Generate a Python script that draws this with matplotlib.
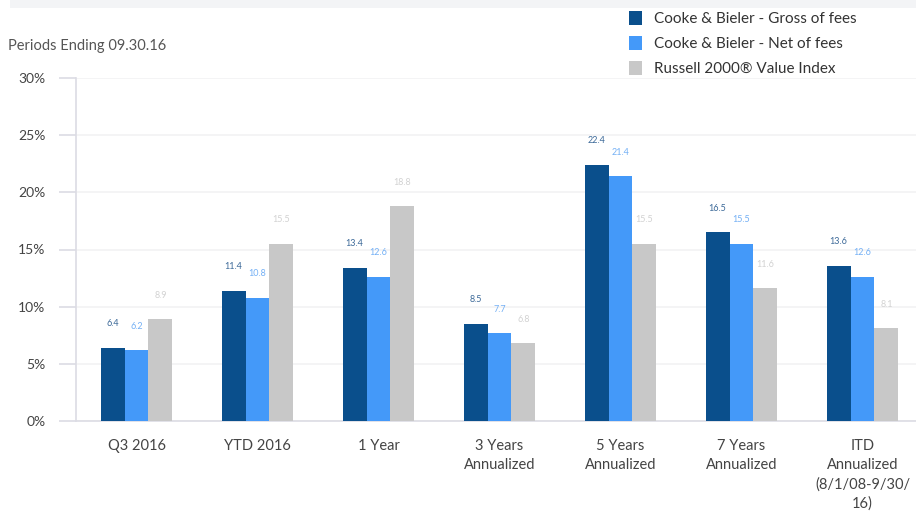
import matplotlib.pyplot as plt
from matplotlib.patches import Rectangle, Patch
import numpy as np

plt.rcParams['font.family'] = ['Lato', 'DejaVu Sans']

# data
categories = ['Q3 2016', 'YTD 2016', '1 Year', '3 Years\nAnnualized', '5 Years\nAnnualized',
              '7 Years\nAnnualized', 'ITD\nAnnualized\n(8/1/08-9/30/\n16)']
gross = [6.4, 11.4, 13.4, 8.5, 22.4, 16.5, 13.6]
net = [6.2, 10.8, 12.6, 7.7, 21.4, 15.5, 12.6]
index = [8.9, 15.5, 18.8, 6.8, 15.5, 11.6, 8.1]
series_names = ['Cooke & Bieler - Gross of fees', 'Cooke & Bieler - Net of fees',
                'Russell 2000\u00ae Value Index']
yticks = [0, 5, 10, 15, 20, 25, 30]

bar_colors = ['#0a4f8c', '#4499f9', '#c8c8c8']
label_colors = ['#3d6a99', '#74b0f5', '#d2d2d2']

fig = plt.figure(figsize=(9.16, 5.12), dpi=100)
ax = fig.add_axes([76 / 916, 1 - 421 / 512, 840 / 916, 343 / 512])

# top light band
fig.patches.append(Rectangle((10 / 916, 1 - 8 / 512), 1, 8 / 512, transform=fig.transFigure,
                             facecolor='#f3f4f6', edgecolor='none', zorder=0))

x = np.arange(len(categories))
w = 0.198
for i, vals in enumerate([gross, net, index]):
    pos = x + (i - 1) * w
    ax.bar(pos, vals, width=w, color=bar_colors[i], zorder=3)
    for p, v in zip(pos, vals):
        ax.annotate(f'{v:.1f}', (p, v), xytext=(0, 14), textcoords='offset points',
                    ha='center', va='bottom', fontsize=6.5, color=label_colors[i])

ax.set_xlim(-0.5, 840 / 121 - 0.5)
ax.set_ylim(0, 30)
ax.set_yticks(yticks)
ax.set_yticklabels([f'{t}%' for t in yticks], fontsize=10, color='#444444')
ax.set_xticks(x)
ax.set_xticklabels(categories, fontsize=10.5, color='#444444', linespacing=1.45, va='top')
ax.tick_params(axis='x', length=0, pad=13)
ax.tick_params(axis='y', length=12, color='#dcdce4', width=1.2, pad=10)

ax.grid(axis='y', color='#f2f2f4', linewidth=1.2, zorder=0)
for s in ['top', 'right']:
    ax.spines[s].set_visible(False)
for s in ['left', 'bottom']:
    ax.spines[s].set_color('#dcdce4')
    ax.spines[s].set_linewidth(1.2)

fig.text(8 / 916, 1 - 46 / 512, 'Periods Ending 09.30.16', fontsize=10.5, color='#555555',
         va='center', ha='left')

handles = [Patch(facecolor=c, edgecolor='none') for c in bar_colors]
fig.legend(handles, series_names, loc='upper left', bbox_to_anchor=(624 / 916, 1 - 6 / 512),
           frameon=False, fontsize=11, handlelength=0.85, handleheight=1.1, handletextpad=0.8,
           labelspacing=0.62, labelcolor='#333333', borderaxespad=0, borderpad=0.3)

fig.savefig('out.png', dpi=100, facecolor='white')
